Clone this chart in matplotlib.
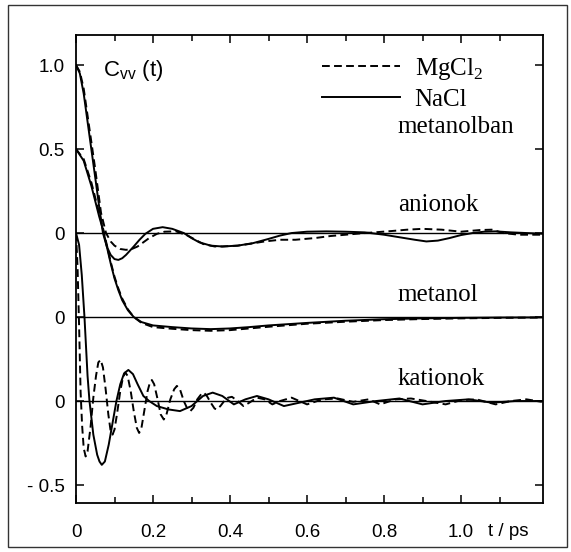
import numpy as np
import matplotlib.pyplot as plt
from matplotlib.patches import Rectangle

# velocity autocorrelation functions, C_vv(t), t in ps
# anions
t_an_na = [0, 0.01, 0.02, 0.035, 0.05, 0.06, 0.07, 0.08, 0.09, 0.10, 0.11, 0.12, 0.13,
           0.15, 0.165, 0.18, 0.20, 0.225, 0.25, 0.28, 0.30, 0.32, 0.35, 0.38, 0.42,
           0.46, 0.50, 0.53, 0.56, 0.60, 0.65, 0.70, 0.75, 0.80, 0.84, 0.88, 0.91,
           0.94, 0.97, 1.00, 1.03, 1.06, 1.09, 1.13, 1.17, 1.21]
c_an_na = [1.0, 0.95, 0.83, 0.58, 0.33, 0.16, 0.0, -0.08, -0.13, -0.155, -0.16, -0.15, -0.13,
           -0.08, -0.04, -0.005, 0.025, 0.035, 0.025, 0.0, -0.03, -0.055, -0.075, -0.08, -0.075,
           -0.06, -0.035, -0.015, 0.0, 0.008, 0.01, 0.008, 0.004, -0.01, -0.025, -0.04, -0.05,
           -0.045, -0.03, -0.012, 0.0, 0.008, 0.01, 0.004, 0.0, -0.004]

t_an_mg = [0, 0.01, 0.02, 0.035, 0.05, 0.065, 0.078, 0.09, 0.10, 0.115, 0.13, 0.145, 0.16,
           0.175, 0.19, 0.21, 0.23, 0.26, 0.29, 0.31, 0.33, 0.36, 0.38, 0.42, 0.45,
           0.49, 0.53, 0.57, 0.62, 0.66, 0.70, 0.74, 0.78, 0.82, 0.86, 0.90, 0.95,
           1.00, 1.05, 1.08, 1.11, 1.15, 1.21]
c_an_mg = [1.0, 0.96, 0.86, 0.62, 0.38, 0.12, 0.0, -0.05, -0.075, -0.095, -0.10, -0.095, -0.08,
           -0.055, -0.03, -0.005, 0.008, 0.01, -0.015, -0.04, -0.065, -0.08, -0.08, -0.075, -0.065,
           -0.05, -0.04, -0.04, -0.03, -0.018, -0.01, -0.002, 0.005, 0.012, 0.02, 0.025, 0.02,
           0.008, 0.018, 0.02, 0.0, -0.01, -0.01]

# methanol
t_me_na = [0, 0.02, 0.04, 0.06, 0.07, 0.08, 0.09, 0.10, 0.11, 0.12, 0.135, 0.15, 0.17,
           0.20, 0.25, 0.30, 0.35, 0.40, 0.45, 0.50, 0.60, 0.70, 0.80, 0.90, 1.00,
           1.10, 1.21]
c_me_na = [1.0, 0.93, 0.78, 0.60, 0.52, 0.42, 0.32, 0.23, 0.16, 0.10, 0.04, 0.0, -0.03,
           -0.05, -0.06, -0.068, -0.072, -0.068, -0.06, -0.05, -0.035, -0.022, -0.013, -0.008, -0.005,
           -0.003, -0.002]

t_me_mg = [0, 0.02, 0.04, 0.06, 0.07, 0.08, 0.09, 0.10, 0.11, 0.12, 0.135, 0.15, 0.17,
           0.20, 0.25, 0.30, 0.35, 0.40, 0.45, 0.50, 0.60, 0.70, 0.80, 0.90, 1.00,
           1.10, 1.21]
c_me_mg = [1.0, 0.94, 0.80, 0.62, 0.53, 0.43, 0.33, 0.24, 0.17, 0.11, 0.045, 0.0, -0.035,
           -0.06, -0.07, -0.078, -0.082, -0.078, -0.068, -0.058, -0.04, -0.028, -0.018, -0.012, -0.008,
           -0.005, -0.003]

# cations
t_ca_na = [0, 0.008, 0.015, 0.022, 0.03, 0.035, 0.045, 0.055, 0.061, 0.067, 0.075, 0.085,
           0.095, 0.105, 0.115, 0.125, 0.136, 0.148, 0.16, 0.175, 0.19, 0.21, 0.24, 0.27,
           0.30, 0.33, 0.355, 0.38, 0.41, 0.44, 0.47, 0.50, 0.54, 0.58, 0.62, 0.67,
           0.72, 0.78, 0.84, 0.90, 0.96, 1.02, 1.08, 1.14, 1.21]
c_ca_na = [1.0, 0.93, 0.75, 0.50, 0.15, 0.0, -0.20, -0.32, -0.36, -0.38, -0.36, -0.26,
           -0.13, 0.0, 0.10, 0.165, 0.185, 0.16, 0.10, 0.03, 0.0, -0.03, -0.05, -0.06,
           -0.03, 0.03, 0.05, 0.03, -0.02, 0.01, 0.03, 0.01, -0.03, -0.01, 0.01, 0.02,
           -0.02, 0.0, 0.015, -0.02, 0.0, 0.01, -0.01, 0.0, 0.0]

t_ca_mg = [0, 0.004, 0.008, 0.012, 0.016, 0.02, 0.025, 0.03, 0.038, 0.045, 0.052, 0.058,
           0.064, 0.07, 0.077, 0.084, 0.09, 0.095, 0.10, 0.107, 0.115, 0.122, 0.128, 0.134,
           0.142, 0.15, 0.158, 0.164, 0.17, 0.178, 0.186, 0.192, 0.197, 0.203, 0.212, 0.22,
           0.228, 0.235, 0.245, 0.255, 0.262, 0.27, 0.28, 0.29, 0.297, 0.305, 0.315, 0.325,
           0.332, 0.34, 0.35, 0.36, 0.366, 0.375, 0.385, 0.395, 0.405, 0.42, 0.435, 0.45,
           0.47, 0.49, 0.51, 0.53, 0.56, 0.60, 0.64, 0.68, 0.72, 0.76, 0.79, 0.83,
           0.87, 0.91, 0.96, 1.00, 1.04, 1.09, 1.13, 1.17, 1.21]
c_ca_mg = [1.0, 0.80, 0.45, 0.05, -0.15, -0.28, -0.33, -0.30, -0.15, 0.02, 0.15, 0.23,
           0.245, 0.20, 0.07, -0.08, -0.18, -0.20, -0.17, -0.07, 0.06, 0.14, 0.17, 0.15,
           0.06, -0.06, -0.16, -0.19, -0.16, -0.05, 0.06, 0.11, 0.125, 0.10, 0.01, -0.08,
           -0.11, -0.08, 0.01, 0.07, 0.09, 0.07, 0.0, -0.05, -0.06, -0.04, 0.01, 0.04,
           0.05, 0.03, -0.01, -0.045, -0.05, -0.03, 0.0, 0.02, 0.025, 0.0, -0.03, -0.01,
           0.02, 0.01, -0.02, 0.0, 0.02, -0.02, 0.01, 0.015, -0.005, 0.01, -0.02, 0.01,
           0.015, 0.0, -0.02, 0.005, 0.01, -0.02, 0.0, 0.01, -0.005]

# vertical shift of each group
off_an, off_me, off_ca = 0.0, -0.5, -1.0

ytick_pos = [1.0, 0.5, 0.0, -0.5, -1.0, -1.5]
ytick_lab = ['1.0', '0.5', '0', '0', '0', '- 0.5']
xtick_pos = [0, 0.2, 0.4, 0.6, 0.8, 1.0]
xtick_lab = ['0', '0.2', '0.4', '0.6', '0.8', '1.0']

SANS = 'Liberation Sans'
SERIF = 'Liberation Serif'
LW = 1.4
DASH = (4, 2.2)

plt.rcParams['mathtext.fontset'] = 'custom'
plt.rcParams['mathtext.rm'] = SERIF
plt.rcParams['mathtext.sf'] = SANS

fig = plt.figure(figsize=(5.71, 5.52), dpi=100)
ax = fig.add_axes([0.1331, 0.0888, 0.8179, 0.8478])

for y0 in (off_an, off_me, off_ca):
    ax.axhline(y0, color='black', lw=1.0)

ax.plot(t_an_na, np.array(c_an_na) + off_an, color='black', lw=LW)
ax.plot(t_an_mg, np.array(c_an_mg) + off_an, color='black', lw=LW, dashes=DASH)
ax.plot(t_me_na, np.array(c_me_na) + off_me, color='black', lw=LW)
ax.plot(t_me_mg, np.array(c_me_mg) + off_me, color='black', lw=LW, dashes=DASH)
l_na, = ax.plot(t_ca_na, np.array(c_ca_na) + off_ca, color='black', lw=LW)
l_mg, = ax.plot(t_ca_mg, np.array(c_ca_mg) + off_ca, color='black', lw=LW, dashes=DASH)

ax.set_xlim(0, 1.213)
ax.set_ylim(-1.607, 1.179)

ax.set_xticks(xtick_pos)
ax.set_xticklabels(xtick_lab)
ax.set_xticks(np.arange(0.1, 1.21, 0.2), minor=True)
ax.set_yticks(ytick_pos)
ax.set_yticklabels(ytick_lab)
ax.tick_params(which='both', direction='in', top=True, right=True, width=1.1)
ax.tick_params(which='major', length=6)
ax.tick_params(which='minor', length=4)
ax.tick_params(axis='x', pad=15, labelsize=13.5)
ax.tick_params(axis='y', pad=8, labelsize=13.5)
for lab in ax.get_xticklabels() + ax.get_yticklabels():
    lab.set_family(SANS)
for sp in ax.spines.values():
    sp.set_linewidth(1.3)

ax.text(1.07, -0.06, 't / ps', transform=ax.get_xaxis_transform(),
        fontsize=13.5, family=SANS, va='center', ha='left')
ax.text(0.07, 0.97, r'C$_{\mathsf{vv}}$ (t)', fontsize=16, family=SANS, va='center')

leg = ax.legend([l_mg, l_na], [r'MgCl$_{\mathrm{2}}$', 'NaCl'], loc='upper left',
                bbox_to_anchor=(0.527, 0.955), frameon=False, borderpad=0,
                borderaxespad=0, handlelength=3.1, handletextpad=0.6,
                labelspacing=0.25, prop={'family': SERIF, 'size': 18})

ax.text(0.836, 0.63, 'metanolban', fontsize=18, family=SERIF, va='center')
ax.text(0.836, 0.167, 'anionok', fontsize=18, family=SERIF, va='center')
ax.text(0.836, -0.37, 'metanol', fontsize=18, family=SERIF, va='center')
ax.text(0.836, -0.87, 'kationok', fontsize=18, family=SERIF, va='center')

# frame around the whole figure
fig.patches.append(Rectangle((8 / 571, 5 / 552), 559 / 571, 542 / 552,
                             transform=fig.transFigure, fill=False,
                             edgecolor='#333333', lw=1.0))

fig.savefig('out.png', dpi=100)
